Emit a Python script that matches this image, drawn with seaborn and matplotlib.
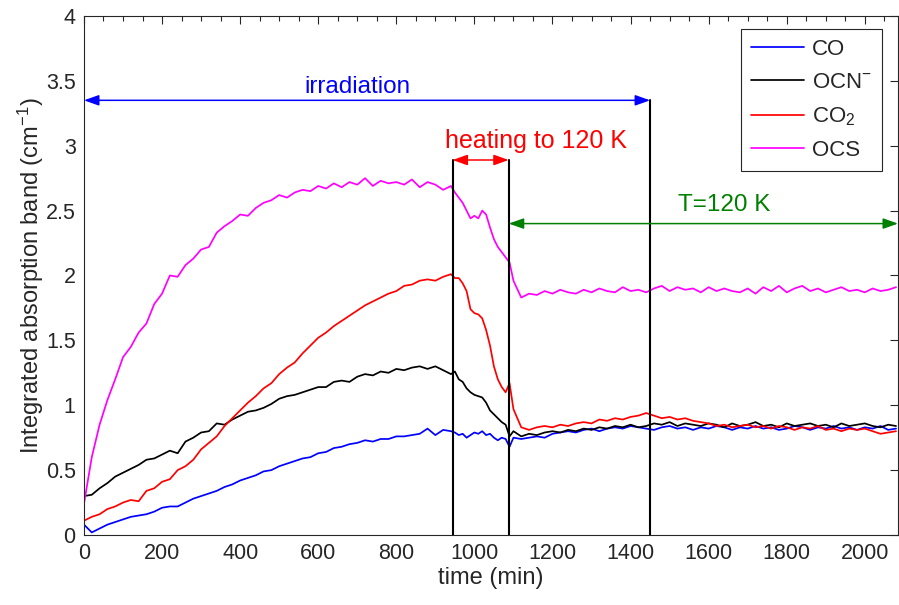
import numpy as np
import pandas as pd
import matplotlib
matplotlib.use("Agg")
import matplotlib.pyplot as plt
import seaborn as sns
from matplotlib.ticker import MultipleLocator, FuncFormatter

sns.set_style("white")
plt.rcParams["font.family"] = ["Liberation Sans", "DejaVu Sans"]
plt.rcParams["mathtext.fontset"] = "custom"
plt.rcParams["mathtext.rm"] = "Liberation Sans"
plt.rcParams["mathtext.it"] = "Liberation Sans:italic"
plt.rcParams["mathtext.default"] = "regular"

# ── data ───────────────────────────────────────────────────────────────────
time_min = [
    0, 20, 40, 60, 80, 100, 120, 140, 160, 180,
    200, 220, 240, 260, 280, 300, 320, 340, 360, 380,
    400, 420, 440, 460, 480, 500, 520, 540, 560, 580,
    600, 620, 640, 660, 680, 700, 720, 740, 760, 780,
    800, 820, 840, 860, 880, 900, 920, 940,
    950, 960, 970, 980, 990, 1000, 1010, 1020, 1030, 1040,
    1050, 1060, 1070, 1080, 1090, 1100,
    1120, 1140, 1160, 1180, 1200, 1220, 1240, 1260, 1280, 1300,
    1320, 1340, 1360, 1380, 1400, 1420, 1440, 1460, 1480, 1500,
    1520, 1540, 1560, 1580, 1600, 1620, 1640, 1660, 1680, 1700,
    1720, 1740, 1760, 1780, 1800, 1820, 1840, 1860, 1880, 1900,
    1920, 1940, 1960, 1980, 2000, 2020, 2040, 2060, 2080,
]

co = [
    0.08, 0.02, 0.05, 0.08, 0.10, 0.12, 0.14, 0.15, 0.16, 0.18,
    0.21, 0.22, 0.22, 0.25, 0.28, 0.30, 0.32, 0.34, 0.37, 0.39,
    0.42, 0.44, 0.46, 0.49, 0.50, 0.53, 0.55, 0.57, 0.59, 0.60,
    0.63, 0.64, 0.67, 0.68, 0.70, 0.71, 0.73, 0.72, 0.74, 0.74,
    0.76, 0.76, 0.77, 0.78, 0.82, 0.77, 0.81, 0.80,
    0.79, 0.77, 0.78, 0.75, 0.77, 0.79, 0.78, 0.80, 0.77, 0.78,
    0.75, 0.73, 0.75, 0.74, 0.68, 0.75,
    0.74, 0.75, 0.76, 0.75, 0.78, 0.79, 0.80, 0.79, 0.81, 0.82,
    0.80, 0.82, 0.83, 0.82, 0.84, 0.83, 0.82, 0.81, 0.83, 0.84,
    0.82, 0.83, 0.81, 0.83, 0.82, 0.84, 0.83, 0.81, 0.83, 0.82,
    0.84, 0.82, 0.83, 0.81, 0.82, 0.84, 0.83, 0.81, 0.83, 0.82,
    0.84, 0.82, 0.83, 0.81, 0.83, 0.82, 0.84, 0.81, 0.82,
]

ocn = [
    0.30, 0.31, 0.36, 0.40, 0.45, 0.48, 0.51, 0.54, 0.58, 0.59,
    0.62, 0.65, 0.63, 0.72, 0.75, 0.79, 0.80, 0.86, 0.85, 0.89,
    0.92, 0.95, 0.96, 0.98, 1.01, 1.05, 1.07, 1.08, 1.10, 1.12,
    1.14, 1.14, 1.18, 1.19, 1.18, 1.22, 1.24, 1.23, 1.26, 1.25,
    1.28, 1.27, 1.29, 1.30, 1.28, 1.30, 1.27, 1.24,
    1.26, 1.20, 1.18, 1.13, 1.10, 1.08, 1.07, 1.06, 1.02, 0.96,
    0.93, 0.90, 0.87, 0.85, 0.76, 0.80,
    0.76, 0.78, 0.77, 0.79, 0.80, 0.79, 0.81, 0.80, 0.82, 0.81,
    0.83, 0.82, 0.84, 0.83, 0.85, 0.83, 0.84, 0.86, 0.85, 0.87,
    0.84, 0.86, 0.85, 0.84, 0.86, 0.85, 0.83, 0.86, 0.84, 0.85,
    0.87, 0.84, 0.85, 0.83, 0.86, 0.84, 0.85, 0.86, 0.84, 0.85,
    0.83, 0.86, 0.84, 0.85, 0.86, 0.84, 0.83, 0.85, 0.84,
]

co2 = [
    0.11, 0.14, 0.16, 0.20, 0.22, 0.25, 0.27, 0.26, 0.34, 0.36,
    0.41, 0.43, 0.50, 0.53, 0.58, 0.66, 0.71, 0.76, 0.84, 0.90,
    0.96, 1.02, 1.07, 1.13, 1.17, 1.24, 1.29, 1.33, 1.40, 1.46,
    1.52, 1.56, 1.61, 1.65, 1.69, 1.73, 1.77, 1.80, 1.83, 1.86,
    1.88, 1.92, 1.93, 1.96, 1.97, 1.96, 1.99, 2.01,
    1.98, 1.98, 1.94, 1.88, 1.74, 1.71, 1.70, 1.67, 1.58, 1.46,
    1.30, 1.20, 1.14, 1.10, 1.17, 0.97,
    0.83, 0.81, 0.83, 0.84, 0.83, 0.85, 0.84, 0.86, 0.87, 0.86,
    0.89, 0.88, 0.90, 0.89, 0.91, 0.92, 0.94, 0.92, 0.90, 0.91,
    0.89, 0.90, 0.88, 0.87, 0.86, 0.84, 0.85, 0.83, 0.84, 0.85,
    0.83, 0.84, 0.82, 0.84, 0.83, 0.81, 0.83, 0.82, 0.84, 0.81,
    0.82, 0.80, 0.82, 0.81, 0.82, 0.80, 0.78, 0.79, 0.80,
]

ocs = [
    0.24, 0.60, 0.85, 1.04, 1.20, 1.37, 1.45, 1.56, 1.63, 1.78,
    1.86, 2.00, 1.99, 2.08, 2.13, 2.20, 2.22, 2.33, 2.38, 2.42,
    2.47, 2.46, 2.52, 2.56, 2.58, 2.62, 2.60, 2.64, 2.66, 2.65,
    2.69, 2.67, 2.71, 2.68, 2.72, 2.70, 2.75, 2.69, 2.73, 2.71,
    2.72, 2.70, 2.74, 2.68, 2.72, 2.70, 2.66, 2.69,
    2.64, 2.60, 2.56, 2.50, 2.44, 2.46, 2.44, 2.50, 2.47, 2.37,
    2.28, 2.22, 2.18, 2.14, 2.10, 1.96,
    1.83, 1.86, 1.85, 1.88, 1.86, 1.89, 1.87, 1.86, 1.89, 1.87,
    1.90, 1.88, 1.87, 1.91, 1.88, 1.89, 1.87, 1.90, 1.92, 1.88,
    1.91, 1.89, 1.90, 1.87, 1.91, 1.88, 1.90, 1.88, 1.87, 1.90,
    1.86, 1.91, 1.88, 1.92, 1.87, 1.90, 1.92, 1.88, 1.90, 1.87,
    1.89, 1.91, 1.88, 1.89, 1.87, 1.90, 1.88, 1.89, 1.91,
]

SPECIES = ["CO", "OCN$^{-}$", "CO$_2$", "OCS"]
PALETTE = {"CO": "#0000ff", "OCN$^{-}$": "#000000", "CO$_2$": "#ff0000", "OCS": "#ff00ff"}

# event times (min) and arrow heights
T_HEAT_START = 944
T_HEAT_END = 1088
T_IRR_END = 1450
X_MAX = 2085

AX_COLOR = "#262626"


def build_frame():
    frames = []
    for name, vals in zip(SPECIES, [co, ocn, co2, ocs]):
        assert len(vals) == len(time_min), name
        frames.append(pd.DataFrame({"time": time_min, "value": vals, "species": name}))
    return pd.concat(frames, ignore_index=True)


def double_arrow(ax, x0, x1, y, color):
    ax.annotate(
        "", xy=(x1, y), xytext=(x0, y),
        arrowprops=dict(arrowstyle="<|-|>,head_length=0.9,head_width=0.32",
                        color=color, lw=1.1, shrinkA=0, shrinkB=0),
        annotation_clip=False,
    )


def main():
    df = build_frame()

    fig = plt.figure(figsize=(8.99, 6.05), dpi=100)
    ax = fig.add_axes([0.0934, 0.1157, 0.9055, 0.8579])

    sns.lineplot(data=df, x="time", y="value", hue="species", hue_order=SPECIES,
                 palette=PALETTE, estimator=None, linewidth=1.25, ax=ax, legend=False)

    # vertical markers
    ax.plot([T_HEAT_START, T_HEAT_START], [0, 2.89], color="black", lw=1.5)
    ax.plot([T_HEAT_END, T_HEAT_END], [0, 2.89], color="black", lw=1.5)
    ax.plot([T_IRR_END, T_IRR_END], [0, 3.35], color="black", lw=1.5)

    # arrows + labels
    double_arrow(ax, 0, T_IRR_END, 3.35, "#0000ff")
    double_arrow(ax, T_HEAT_START, T_HEAT_END, 2.89, "#ff0000")
    double_arrow(ax, T_HEAT_END, X_MAX, 2.40, "#008000")
    ax.text(700, 3.45, "irradiation", color="#0000ff", fontsize=17.5, ha="center", va="center")
    ax.text(1157, 3.04, "heating to 120 K", color="#ff0000", fontsize=18, ha="center", va="center")
    ax.text(1641, 2.54, "T=120 K", color="#008000", fontsize=17.5, ha="center", va="center")

    ax.set_xlim(0, X_MAX)
    ax.set_ylim(0, 4)
    ax.xaxis.set_major_locator(MultipleLocator(200))
    ax.xaxis.set_minor_locator(MultipleLocator(50))
    ax.yaxis.set_major_locator(MultipleLocator(0.5))
    ax.yaxis.set_major_formatter(FuncFormatter(lambda v, p: f"{v:g}"))
    ax.tick_params(which="both", direction="in", top=True, right=True,
                   colors=AX_COLOR, labelsize=15.5, width=0.8)
    ax.tick_params(which="major", length=6, pad=6)
    ax.tick_params(which="minor", length=3.5)
    for sp in ax.spines.values():
        sp.set_color(AX_COLOR)
        sp.set_linewidth(0.8)

    ax.set_xlabel("time (min)", fontsize=17, color=AX_COLOR, labelpad=2)
    ax.set_ylabel("Integrated absorption band (cm$^{-1}$)", fontsize=17, color=AX_COLOR, labelpad=0)

    handles = [plt.Line2D([], [], color=PALETTE[s], lw=1.25) for s in SPECIES]
    leg = ax.legend(handles, SPECIES, loc="upper right", bbox_to_anchor=(0.980, 0.975),
                    fontsize=16, frameon=True, fancybox=False, framealpha=1,
                    edgecolor=AX_COLOR, handlelength=2.4, labelspacing=0.55,
                    borderpad=0.45, handletextpad=0.35, borderaxespad=0)
    leg.get_frame().set_linewidth(0.8)

    fig.savefig("out.png", dpi=100)
    plt.close(fig)


if __name__ == "__main__":
    main()
